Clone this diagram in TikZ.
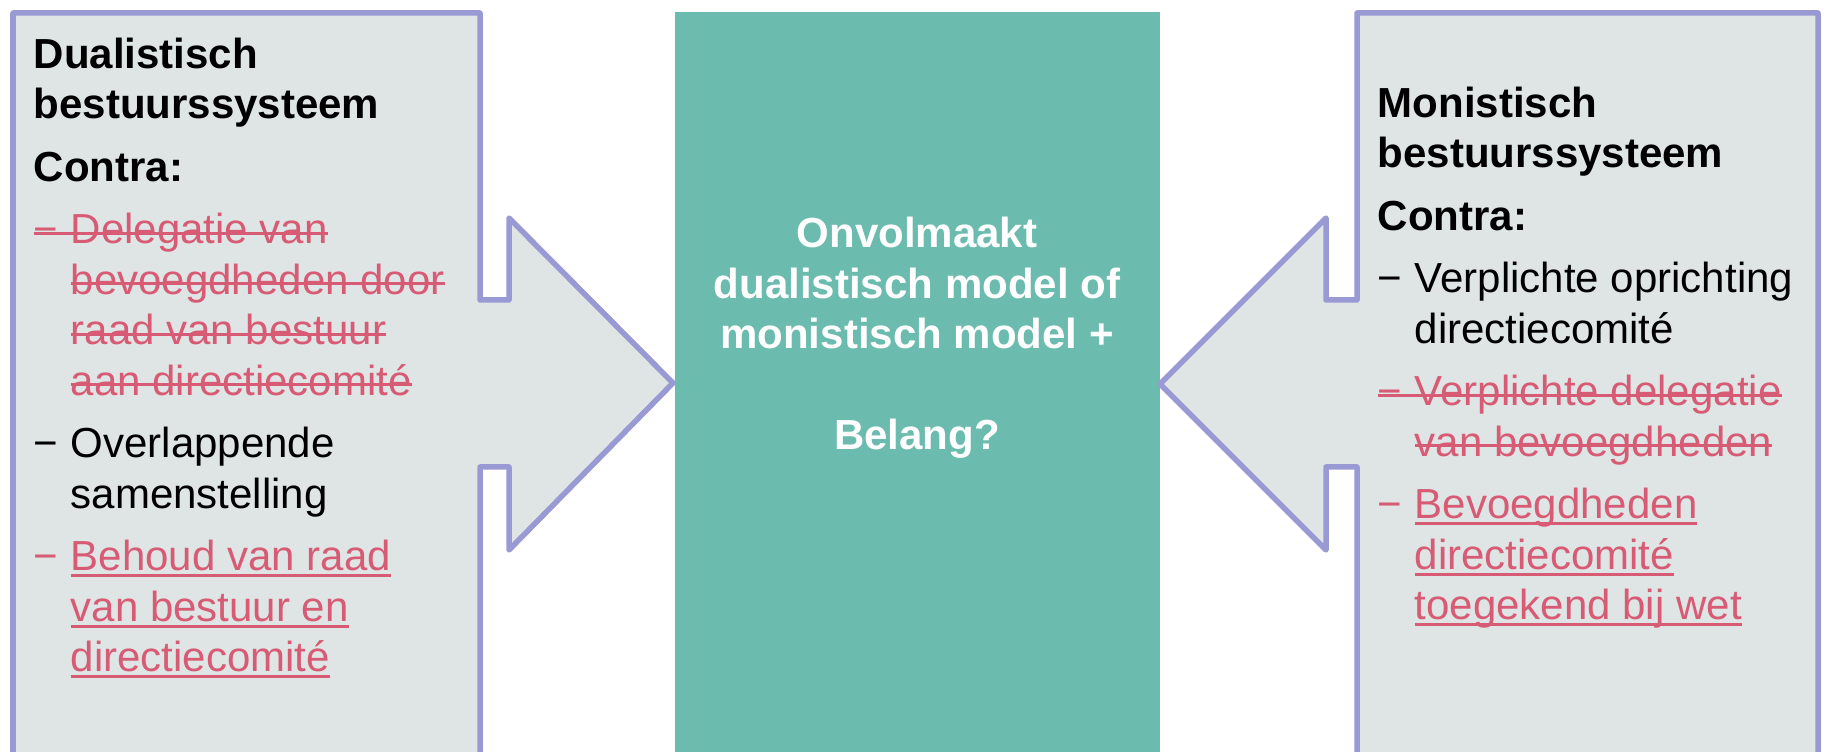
\documentclass[tikz,border=0pt]{standalone}
\usepackage{fontspec}
\setmainfont{Liberation Sans}
\usepackage{xcolor}
\definecolor{frameblue}{RGB}{153,153,212}
\definecolor{panelgray}{RGB}{223,229,229}
\definecolor{modelgreen}{RGB}{107,187,174}
\definecolor{cutred}{RGB}{215,91,116}
\newsavebox{\linebox}
\newcommand{\cutout}[1]{\sbox{\linebox}{#1}\rlap{\rule[2.6pt]{\wd\linebox}{0.9pt}}\usebox{\linebox}}
\newcommand{\underl}[1]{\sbox{\linebox}{#1}\rlap{\rule[-1.8pt]{\wd\linebox}{0.9pt}}\usebox{\linebox}}
\newcommand{\itemdash}{\makebox[0.37cm][l]{−}}
\newcommand{\itemgap}{\hspace*{0.37cm}}
\newcommand{\red}[1]{\textcolor{cutred}{#1}}

\begin{document}
\begin{tikzpicture}[x=0.01cm, y=-0.01cm,
	callout/.style={draw=frameblue, fill=panelgray, line width=0.055cm, line join=round},
	sidetext/.style={anchor=base west, align=left, inner sep=0pt, font=\fontsize{11.95pt}{14.37pt}\selectfont},
	modeltext/.style={anchor=base, align=center, inner sep=0pt, text=white, font=\fontsize{11.95pt}{14.37pt}\selectfont\bfseries}]
	\useasboundingbox (0,0) rectangle (1826,752);
	% Shapes:
	\begin{scope}
		\clip (0,0) rectangle (1826,752);
		\fill[modelgreen] (675,12) rectangle (1160,780);
		\draw[callout] (13,780) -- (13,13) -- (480,13) -- (480,300) -- (509,300) -- (509,218) -- (673,383) -- (509,550) -- (509,467) -- (480,467) -- (480,780);
		\draw[callout] (1357,780) -- (1357,467) -- (1326,467) -- (1326,550) -- (1160,384) -- (1326,218) -- (1326,300) -- (1357,300) -- (1357,13) -- (1818,13) -- (1818,780);
	\end{scope}
	% Texts (anchored on their last line):
	\node[sidetext] (dualtxt) at (33,672){\textbf{Dualistisch}\\
		\textbf{bestuurssysteem}\\[3.4pt]
		\textbf{Contra:}\\[3.4pt]
		\red{\cutout{\itemdash Delegatie van}}\\
		\itemgap\red{\cutout{bevoegdheden door}}\\
		\itemgap\red{\cutout{raad van bestuur}}\\
		\itemgap\red{\cutout{aan directiecomité}}\\[3.4pt]
		\itemdash Overlappende\\
		\itemgap samenstelling\\[3.4pt]
		\red{\itemdash\underl{Behoud van raad}}\\
		\itemgap\red{\underl{van bestuur en}}\\
		\itemgap\red{\underl{directiecomité}}};
	\node[modeltext] (modeltxt) at (917,450){Onvolmaakt\\
		dualistisch model of\\
		monistisch model +\\
		\mbox{}\\
		Belang?};
	\node[sidetext] (monotxt) at (1377,620){\textbf{Monistisch}\\
		\textbf{bestuurssysteem}\\[3.4pt]
		\textbf{Contra:}\\[3.4pt]
		\itemdash Verplichte oprichting\\
		\itemgap directiecomité\\[3.4pt]
		\red{\cutout{\itemdash Verplichte delegatie}}\\
		\itemgap\red{\cutout{van bevoegdheden}}\\[3.4pt]
		\red{\itemdash\underl{Bevoegdheden}}\\
		\itemgap\red{\underl{directiecomité}}\\
		\itemgap\red{\underl{toegekend bij wet}}};
\end{tikzpicture}
\end{document}
